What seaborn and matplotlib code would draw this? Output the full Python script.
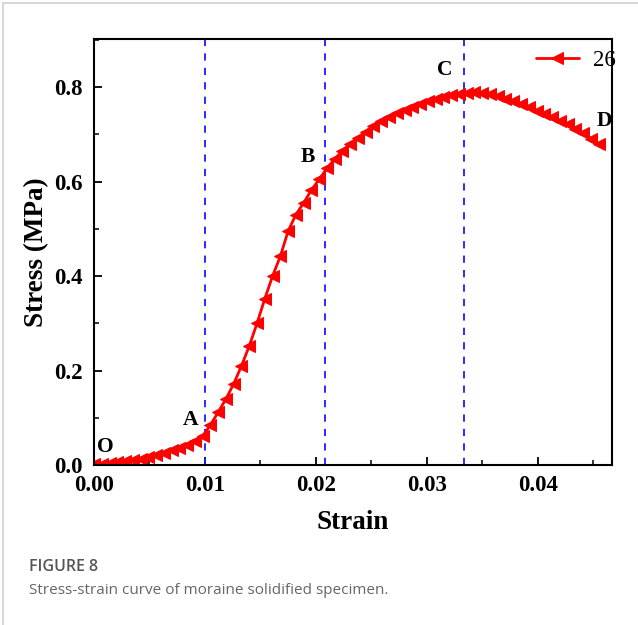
import matplotlib
matplotlib.use("Agg")
import matplotlib.pyplot as plt
from matplotlib.lines import Line2D
from matplotlib.ticker import MultipleLocator
import seaborn as sns
import pandas as pd

# Stress-strain record of specimen 26
strain = [0.0000, 0.0007, 0.0014, 0.0021, 0.0028, 0.0035, 0.0042, 0.0049, 0.0056, 0.0063,
          0.0070, 0.0077, 0.0084, 0.0091, 0.0098, 0.0105, 0.0112, 0.0119, 0.0126, 0.0133,
          0.0140, 0.0147, 0.0154, 0.0161, 0.0168, 0.0175, 0.0182, 0.0189, 0.0196, 0.0203,
          0.0210, 0.0217, 0.0224, 0.0231, 0.0238, 0.0245, 0.0252, 0.0259, 0.0266, 0.0273,
          0.0280, 0.0287, 0.0294, 0.0301, 0.0308, 0.0315, 0.0322, 0.0329, 0.0336, 0.0343,
          0.0350, 0.0357, 0.0364, 0.0371, 0.0378, 0.0385, 0.0392, 0.0399, 0.0406, 0.0413,
          0.0420, 0.0427, 0.0434, 0.0441, 0.0448, 0.0455]
stress = [0.002, 0.003, 0.004, 0.006, 0.008, 0.010, 0.013, 0.017, 0.021, 0.026,
          0.031, 0.036, 0.042, 0.050, 0.061, 0.085, 0.112, 0.140, 0.172, 0.210,
          0.252, 0.300, 0.352, 0.400, 0.442, 0.495, 0.530, 0.555, 0.582, 0.605,
          0.628, 0.648, 0.665, 0.680, 0.693, 0.706, 0.718, 0.728, 0.737, 0.745,
          0.752, 0.759, 0.765, 0.770, 0.775, 0.779, 0.783, 0.786, 0.788, 0.789,
          0.788, 0.785, 0.781, 0.776, 0.770, 0.764, 0.757, 0.750, 0.744, 0.737,
          0.729, 0.721, 0.712, 0.702, 0.691, 0.679]

# Stage boundaries and stage labels
stage_lines = [0.0100, 0.0208, 0.0334]
point_names = ["O", "A", "B", "C", "D"]
point_x = [0.0010, 0.0087, 0.0193, 0.0316, 0.0460]
point_y = [0.038, 0.095, 0.653, 0.836, 0.729]

x_ticks = [0.00, 0.01, 0.02, 0.03, 0.04]
y_ticks = [0.0, 0.2, 0.4, 0.6, 0.8]

df = pd.DataFrame({"Strain": strain, "Stress": stress})

sns.set_theme(style="ticks")
plt.rcParams["font.family"] = ["Liberation Serif", "DejaVu Serif"]
plt.rcParams["text.color"] = "black"
plt.rcParams["axes.labelcolor"] = "black"
plt.rcParams["xtick.color"] = "black"
plt.rcParams["ytick.color"] = "black"

fig = plt.figure(figsize=(6.38, 6.25), dpi=100)
ax = fig.add_axes([0.1473, 0.256, 0.8119, 0.6816])

sns.lineplot(data=df, x="Strain", y="Stress", ax=ax, color="red", marker="<",
             markersize=9, markeredgecolor="red", linewidth=2.0, label="26",
             sort=False, estimator=None)

for xv in stage_lines:
    ax.axvline(xv, color="#1a1aff", linestyle=(0, (4, 4)), linewidth=1.3, zorder=1)

for name, px, py in zip(point_names, point_x, point_y):
    ax.text(px, py, name, fontsize=15.5, fontweight="bold", ha="center", va="center",
            color="black")

ax.set_xlim(0.0, 0.0467)
ax.set_ylim(0.0, 0.902)
ax.set_xticks(x_ticks)
ax.set_yticks(y_ticks)
ax.set_xticklabels([f"{t:.2f}" for t in x_ticks])
ax.set_yticklabels([f"{t:.1f}" for t in y_ticks])
ax.xaxis.set_minor_locator(MultipleLocator(0.005))
ax.yaxis.set_minor_locator(MultipleLocator(0.1))
ax.tick_params(which="major", direction="in", length=6, width=1.3, labelsize=16.5,
               top=False, right=False, colors="black")
ax.tick_params(axis="x", which="major", pad=7)
ax.tick_params(axis="y", which="major", pad=8)
ax.tick_params(which="minor", direction="in", length=3.5, width=1.1,
               top=False, right=False, colors="black")
for lab in ax.get_xticklabels() + ax.get_yticklabels():
    lab.set_fontweight("bold")
for sp in ax.spines.values():
    sp.set_linewidth(1.5)
    sp.set_color("black")

ax.set_xlabel("Strain", fontsize=19.5, fontweight="bold", labelpad=10, color="black")
ax.set_ylabel("Stress (MPa)", fontsize=19.5, fontweight="bold", labelpad=4, color="black")

leg = ax.legend(loc="center right", bbox_to_anchor=(1.025, 0.95), frameon=False,
                fontsize=16.5, handlelength=1.9, borderaxespad=0.0, handletextpad=0.6)
for t in leg.get_texts():
    t.set_color("black")

# Page frame and caption
fig.add_artist(Line2D([0.005, 1.0], [0.995, 0.995], color="#d0d0d0", linewidth=1.2,
                      transform=fig.transFigure))
fig.add_artist(Line2D([0.005, 0.005], [0.0, 0.995], color="#d0d0d0", linewidth=1.2,
                      transform=fig.transFigure))
fig.text(0.045, 0.093, "FIGURE 8", fontsize=11.5, color="#555555",
         family=["Open Sans", "DejaVu Sans"], fontweight="semibold", va="center")
fig.text(0.045, 0.056, "Stress-strain curve of moraine solidified specimen.",
         fontsize=11, color="#666666", family=["Open Sans", "DejaVu Sans"], va="center")

fig.savefig("out.png", dpi=100)
